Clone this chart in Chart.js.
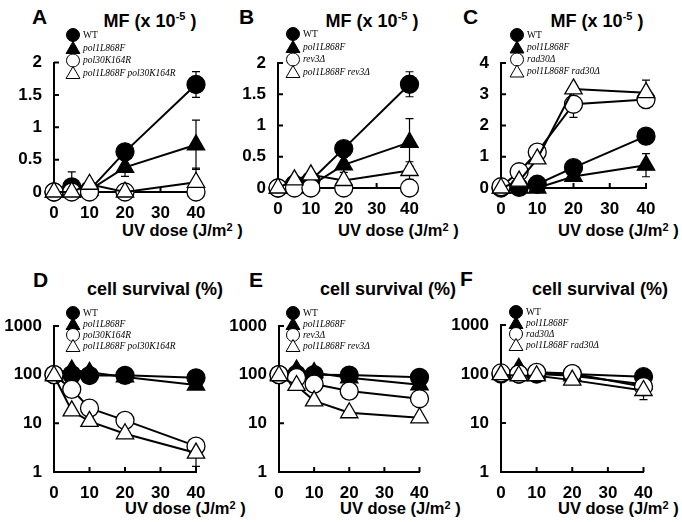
<!DOCTYPE html>
<html>
<head>
<meta charset="utf-8">
<script src="https://cdn.jsdelivr.net/npm/chart.js@4.4.1/dist/chart.umd.min.js"></script>
<style>
  body { margin: 0; background: #fff; }
  #fig { position: relative; width: 682px; height: 522px; overflow: hidden; font-family: 'Liberation Sans', Arial, sans-serif; font-weight: bold; color: #000; }
  #fig canvas { position: absolute; left: 0; top: 0; }
  .txt { position: absolute; white-space: nowrap; line-height: 1; }
  .letter { font-size: 21px; }
  .title { font-size: 18px; transform: translateX(-50%); }
  .xlab { font-size: 16.5px; }
  .sup { font-size: 11px; position: relative; top: -7px; }
</style>
</head>
<body>
<div id="fig">
  <div class="txt letter" style="left:32px;top:6px">A</div>
  <div class="txt letter" style="left:239px;top:6px">B</div>
  <div class="txt letter" style="left:463px;top:6px">C</div>
  <div class="txt letter" style="left:33px;top:269px">D</div>
  <div class="txt letter" style="left:249px;top:269px">E</div>
  <div class="txt letter" style="left:460px;top:268px">F</div>

  <div class="txt title" style="left:150px;top:12px">MF (x 10<span class="sup">-5</span> )</div>
  <div class="txt title" style="left:372px;top:12px">MF (x 10<span class="sup">-5</span> )</div>
  <div class="txt title" style="left:597px;top:12px">MF (x 10<span class="sup">-5</span> )</div>
  <div class="txt title" style="left:155px;top:280px">cell survival (%)</div>
  <div class="txt title" style="left:388px;top:280px">cell survival (%)</div>
  <div class="txt title" style="left:600px;top:280px">cell survival (%)</div>

  <div class="txt xlab" style="left:122px;top:222px">UV dose (J/m<span class="sup" style="top:-5px">2</span> )</div>
  <div class="txt xlab" style="left:338px;top:222px">UV dose (J/m<span class="sup" style="top:-5px">2</span> )</div>
  <div class="txt xlab" style="left:558px;top:222px">UV dose (J/m<span class="sup" style="top:-5px">2</span> )</div>
  <div class="txt xlab" style="left:125px;top:500px">UV dose (J/m<span class="sup" style="top:-5px">2</span> )</div>
  <div class="txt xlab" style="left:340px;top:500px">UV dose (J/m<span class="sup" style="top:-5px">2</span> )</div>
  <div class="txt xlab" style="left:558px;top:500px">UV dose (J/m<span class="sup" style="top:-5px">2</span> )</div>
</div>
<script>
const doses = [0, 5, 10, 20, 40];
const xTicks = [0, 10, 20, 30, 40];
const mfTicks = [0, 0.5, 1, 1.5, 2];
const mfTicksC = [0, 1, 2, 3, 4];
const survTicks = [1, 10, 100, 1000];

const legendA = ['WT', 'pol1L868F', 'pol30K164R', 'pol1L868F pol30K164R'];
const legendB = ['WT', 'pol1L868F', 'rev3Δ', 'pol1L868F rev3Δ'];
const legendC = ['WT', 'pol1L868F', 'rad30Δ', 'pol1L868F rad30Δ'];

// mutation frequency (x 10^-5)
const mfA_wt = [0, 0.08, 0.03, 0.62, 1.66];
const mfA_pol1 = [0, 0, 0.03, 0.38, 0.73];
const mfA_pol30 = [0, 0, 0, 0, 0];
const mfA_double = [0, 0, 0.12, 0, 0.15];
const errA_wt = [0, 0.23, 0, 0.05, 0.2];
const errA_pol1 = [0, 0, 0, 0.14, 0.38];
const errA_double = [0, 0, 0, 0, 0.22];

const mfB_wt = [0, 0.06, 0.12, 0.63, 1.66];
const mfB_pol1 = [0, 0, 0.04, 0.37, 0.73];
const mfB_rev3 = [0, 0, 0, 0, 0];
const mfB_double = [0, 0.13, 0.21, 0.12, 0.28];
const errB_wt = [0, 0, 0, 0.05, 0.2];
const errB_pol1 = [0, 0, 0, 0.12, 0.38];
const errB_double = [0, 0, 0, 0, 0.14];

const mfC_wt = [0, 0.02, 0.12, 0.65, 1.66];
const mfC_pol1 = [0, 0, 0, 0.37, 0.73];
const mfC_rad30 = [0.04, 0.52, 1.15, 2.68, 2.83];
const mfC_double = [0, 0.22, 0.93, 3.17, 3.05];
const errC_pol1 = [0, 0, 0, 0, 0.37];
const errC_rad30 = [0, 0, 0.15, 0.42, 0];
const errC_double = [0, 0, 0, 0, 0.4];

// cell survival (%)
const svD_wt = [100, 100, 96, 97, 86];
const svD_pol1 = [100, 125, 112, 90, 61];
const svD_pol30 = [100, 50, 20.5, 11.5, 3.4];
const svD_double = [95, 18, 11, 6.1, 2.45];
const errD_double = [0, 0, 0, 0, 1.15];

const svE_wt = [100, 102, 100, 98, 88];
const svE_pol1 = [100, 125, 110, 86, 62];
const svE_rev3 = [100, 87, 64, 46, 32];
const svE_double = [95, 60, 29, 16.5, 13];

const svF_wt = [100, 100, 100, 100, 88];
const svF_pol1 = [100, 130, 100, 92, 62];
const svF_rad30 = [105, 100, 108, 102, 55];
const svF_double = [97, 92, 92, 75, 46];
const errF_double = [0, 0, 0, 0, 16];

const none = [0, 0, 0, 0, 0];

const panels = [
  { left: 54, right: 196, top: 62.5, bottom: 192, ymin: 0, ymax: 2, yticks: mfTicks, log: false,
    legend: legendA, lx: 73, ly: [35, 48, 60.5, 73],
    series: [mfA_wt, mfA_pol1, mfA_pol30, mfA_double], errs: [errA_wt, errA_pol1, none, errA_double] },
  { left: 278, right: 409.5, top: 63, bottom: 188, ymin: 0, ymax: 2, yticks: mfTicks, log: false,
    legend: legendB, lx: 293, ly: [34, 47, 59.5, 72],
    series: [mfB_wt, mfB_pol1, mfB_rev3, mfB_double], errs: [errB_wt, errB_pol1, none, errB_double] },
  { left: 501, right: 646, top: 63, bottom: 188, ymin: 0, ymax: 4, yticks: mfTicksC, log: false,
    legend: legendC, lx: 517, ly: [35, 47.5, 59.5, 71.5],
    series: [mfC_wt, mfC_pol1, mfC_rad30, mfC_double], errs: [none, errC_pol1, errC_rad30, errC_double] },
  { left: 54, right: 196, top: 326, bottom: 472, ymin: 1, ymax: 1000, yticks: survTicks, log: true,
    legend: legendA, lx: 73, ly: [313, 324, 335, 346],
    series: [svD_wt, svD_pol1, svD_pol30, svD_double], errs: [none, none, none, errD_double] },
  { left: 279, right: 419.5, top: 326, bottom: 472, ymin: 1, ymax: 1000, yticks: survTicks, log: true,
    legend: legendB, lx: 293, ly: [313, 324, 335, 346],
    series: [svE_wt, svE_pol1, svE_rev3, svE_double], errs: [none, none, none, none] },
  { left: 501, right: 643.5, top: 325, bottom: 472, ymin: 1, ymax: 1000, yticks: survTicks, log: true,
    legend: legendC, lx: 516, ly: [312, 323, 334, 345],
    series: [svF_wt, svF_pol1, svF_rad30, svF_double], errs: [none, none, none, errF_double] },
];

const markers = [
  { style: 'circle', fill: '#000', r: 9 },
  { style: 'triangle', fill: '#000', r: 10 },
  { style: 'circle', fill: '#fff', r: 9 },
  { style: 'triangle', fill: '#fff', r: 10 },
];

function shape(ctx, style, x, y, r) {
  ctx.beginPath();
  if (style === 'circle') {
    ctx.arc(x, y, r, 0, Math.PI * 2);
  } else {
    ctx.moveTo(x, y - r);
    ctx.lineTo(x + r * Math.sin(2 * Math.PI / 3), y - r * Math.cos(2 * Math.PI / 3));
    ctx.lineTo(x + r * Math.sin(4 * Math.PI / 3), y - r * Math.cos(4 * Math.PI / 3));
    ctx.closePath();
  }
}

// ticks point into the plot
const inwardTicks = {
  id: 'inwardTicks',
  beforeDatasetsDraw(chart) {
    const { ctx, chartArea, scales } = chart;
    ctx.save();
    ctx.strokeStyle = '#000';
    ctx.lineWidth = 2;
    ctx.beginPath();
    scales.x.ticks.forEach(t => {
      if (t.value === 0) return;
      const px = scales.x.getPixelForValue(t.value);
      ctx.moveTo(px, chartArea.bottom);
      ctx.lineTo(px, chartArea.bottom - 5);
    });
    scales.y.ticks.forEach(t => {
      const py = scales.y.getPixelForValue(t.value);
      ctx.moveTo(chartArea.left, py);
      ctx.lineTo(chartArea.left + 5, py);
    });
    ctx.stroke();
    ctx.restore();
  },
};

const errorBars = {
  id: 'errorBars',
  beforeDatasetsDraw(chart) {
    const { ctx, chartArea, scales } = chart;
    ctx.save();
    ctx.strokeStyle = '#000';
    ctx.lineWidth = 1.2;
    chart.data.datasets.forEach(ds => {
      ds.data.forEach((pt, i) => {
        const e = ds.err[i];
        if (!e) return;
        const px = scales.x.getPixelForValue(pt.x);
        const top = scales.y.getPixelForValue(pt.y + e);
        const low = pt.y - e;
        let bot = low > (scales.y.type === 'logarithmic' ? 0 : -1e9) ? scales.y.getPixelForValue(low) : chartArea.bottom;
        const capBot = bot < chartArea.bottom;
        bot = Math.min(bot, chartArea.bottom);
        ctx.beginPath();
        ctx.moveTo(px, top);
        ctx.lineTo(px, bot);
        ctx.moveTo(px - 4, top);
        ctx.lineTo(px + 4, top);
        if (capBot) {
          ctx.moveTo(px - 4, bot);
          ctx.lineTo(px + 4, bot);
        }
        ctx.stroke();
      });
    });
    ctx.restore();
  },
};

const symbolLegend = {
  id: 'symbolLegend',
  afterDraw(chart, args, opts) {
    const { ctx } = chart;
    ctx.save();
    ctx.textBaseline = 'middle';
    ctx.fillStyle = '#000';
    opts.labels.forEach((lab, i) => {
      const m = markers[i];
      const y = opts.rows[i];
      shape(ctx, m.style, opts.x, y + (m.style === 'triangle' ? 1.5 : 0), m.style === 'circle' ? 6.5 : 8);
      ctx.fillStyle = m.fill;
      ctx.fill();
      ctx.lineWidth = 1;
      ctx.strokeStyle = '#000';
      ctx.stroke();
      ctx.fillStyle = '#000';
      ctx.font = (lab === 'WT' ? '' : 'italic ') + '9.5px "Liberation Serif", "Times New Roman", serif';
      ctx.fillText(lab, opts.x + 10, y);
    });
    ctx.restore();
  },
};

const fig = document.getElementById('fig');
const tickFont = { family: "'Liberation Sans', Arial, sans-serif", size: 17, weight: 'bold' };

panels.forEach(p => {
  const canvas = document.createElement('canvas');
  canvas.width = 682;
  canvas.height = 522;
  fig.appendChild(canvas);

  new Chart(canvas, {
    type: 'line',
    data: {
      datasets: p.series.map((s, i) => ({
        label: p.legend[i],
        data: doses.map((d, j) => ({ x: d, y: s[j] })),
        err: p.errs[i],
        borderColor: '#000',
        borderWidth: 2,
        pointStyle: markers[i].style,
        pointRadius: markers[i].r,
        pointBackgroundColor: markers[i].fill,
        pointBorderColor: '#000',
        pointBorderWidth: 1.3,
        tension: 0,
        clip: false,
        order: 3 - i,
      })),
    },
    options: {
      responsive: false,
      animation: false,
      events: [],
      layout: {
        padding: { left: 0, top: p.top, right: 682 - p.right, bottom: 522 - p.bottom - 30 },
      },
      plugins: {
        legend: { display: false },
        tooltip: { enabled: false },
        symbolLegend: { labels: p.legend, x: p.lx, rows: p.ly },
      },
      scales: {
        x: {
          type: 'linear',
          min: 0,
          max: 40,
          afterBuildTicks: s => { s.ticks = xTicks.map(v => ({ value: v })); },
          afterFit: s => { s.height = 30; },
          grid: { display: false, drawTicks: false },
          border: { display: true, color: '#000', width: 2 },
          ticks: { color: '#000', font: tickFont, padding: 11, maxRotation: 0, callback: v => String(v) },
        },
        y: {
          type: p.log ? 'logarithmic' : 'linear',
          min: p.ymin,
          max: p.ymax,
          afterBuildTicks: s => { s.ticks = p.yticks.map(v => ({ value: v })); },
          afterFit: s => { s.width = p.left; },
          grid: { display: false, drawTicks: false },
          border: { display: true, color: '#000', width: 2 },
          ticks: { color: '#000', font: tickFont, padding: 12, callback: v => String(v) },
        },
      },
    },
    plugins: [inwardTicks, errorBars, symbolLegend],
  });
});
</script>
</body>
</html>
